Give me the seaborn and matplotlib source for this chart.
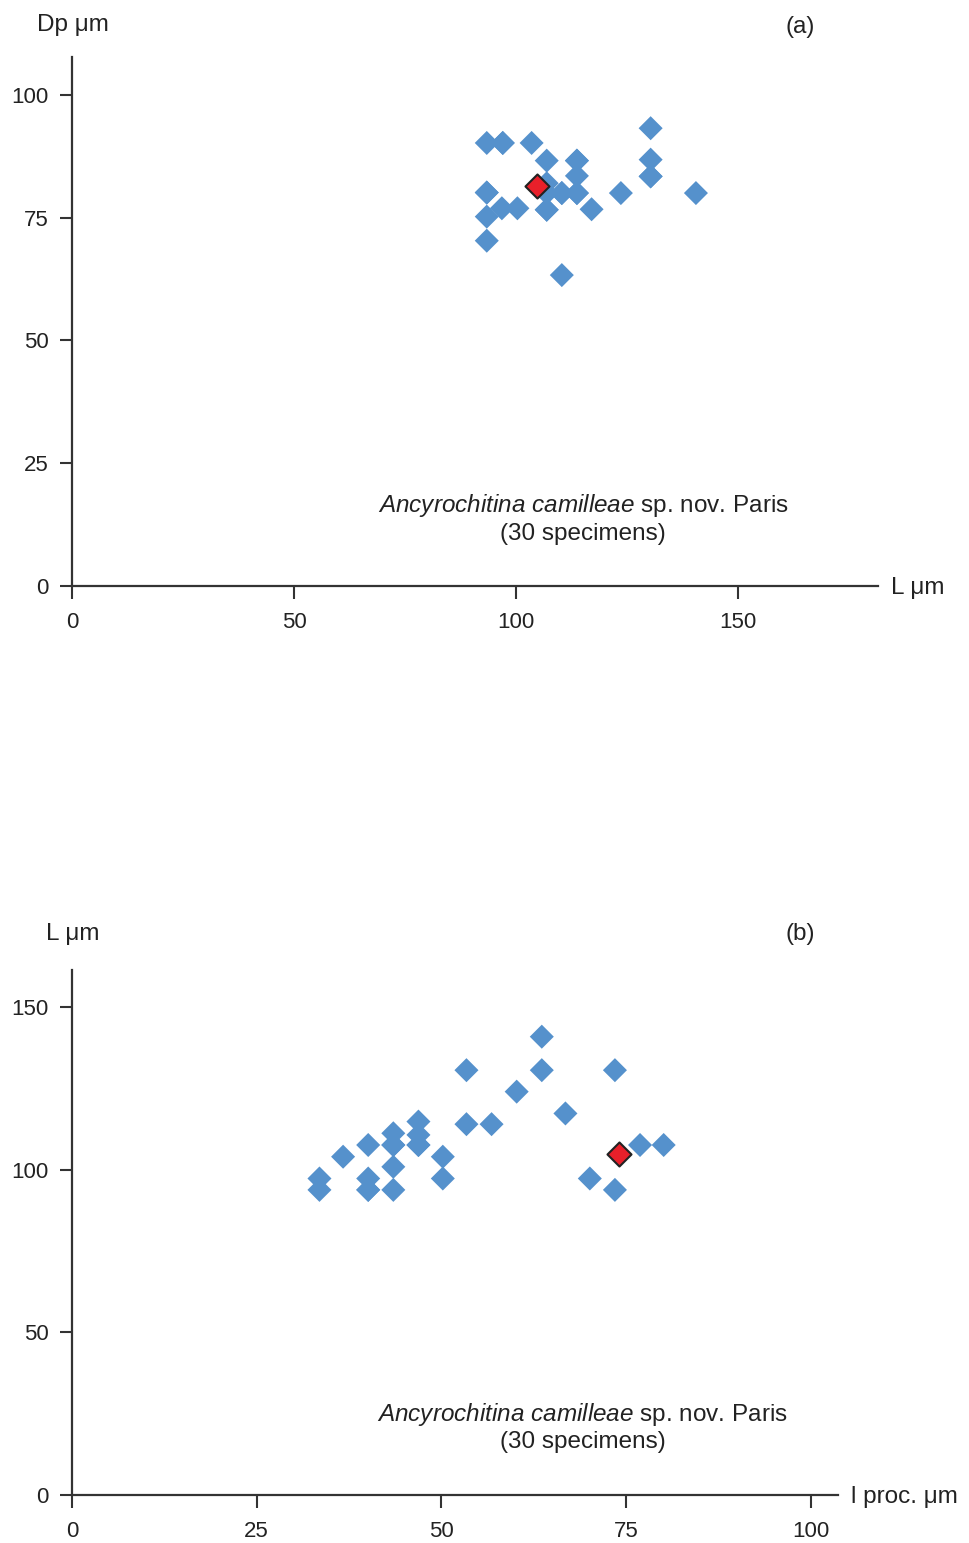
import numpy as np
import pandas as pd
import seaborn as sns
import matplotlib.pyplot as plt

sns.set_style("ticks")
plt.rcParams['font.family'] = ['Liberation Sans', 'DejaVu Sans']
plt.rcParams['mathtext.fontset'] = 'custom'
plt.rcParams['mathtext.rm'] = 'Liberation Sans'
plt.rcParams['mathtext.it'] = 'Liberation Sans:italic'

# (a) length L vs. diameter Dp, µm
a_L = [93.4, 97.0, 103.5, 130.3, 106.9, 113.7, 130.3, 113.7, 130.3, 106.9,
       93.4, 110.3, 113.7, 123.6, 140.5, 96.8, 100.3, 106.9, 117.0, 93.4,
       93.4, 110.3, 106.9, 113.7, 93.4, 97.0, 106.9, 113.7, 130.3, 110.3]
a_Dp = [90.2, 90.2, 90.2, 93.2, 86.6, 86.6, 86.8, 83.5, 83.4, 82.0,
        80.1, 80.0, 80.0, 80.0, 80.0, 76.9, 76.9, 76.6, 76.7, 75.2,
        70.3, 63.3, 80.0, 80.0, 80.1, 90.2, 76.6, 86.6, 83.4, 80.0]
a_mean = (104.7, 81.5)

# (b) process length vs. L, µm
b_proc = [63.6, 53.4, 63.6, 73.5, 60.2, 66.8, 53.4, 56.8, 46.9, 46.9,
          46.9, 43.5, 43.5, 40.1, 36.7, 50.2, 76.9, 80.1, 43.5, 33.5,
          40.1, 50.2, 70.1, 33.5, 40.1, 43.5, 73.5, 46.9, 43.5, 40.1]
b_L = [140.9, 130.6, 130.6, 130.6, 124.0, 117.3, 114.0, 114.0, 114.8, 110.7,
       107.6, 111.2, 107.6, 107.6, 104.0, 104.0, 107.6, 107.6, 100.9, 97.3,
       97.3, 97.3, 97.3, 93.8, 93.8, 93.8, 93.8, 107.6, 107.6, 93.8]
b_mean = (74.1, 104.8)

W, H = 969, 1543
fig = plt.figure(figsize=(W / 100, H / 100), dpi=100)

def px_axes(l, r, t, b):
    return fig.add_axes([l / W, 1 - b / H, (r - l) / W, (b - t) / H])

blue = '#5591cc'
red = '#e8202a'
txt = '#222222'
caption = r"$\mathit{Ancyrochitina\ camilleae}$ sp. nov. Paris" + "\n(30 specimens)"

def style(ax, xmax, ymax, xticks, yticks):
    ax.set_xlim(0, xmax)
    ax.set_ylim(0, ymax)
    ax.set_xticks(xticks)
    ax.set_yticks(yticks)
    sns.despine(ax=ax)
    for s in ['left', 'bottom']:
        ax.spines[s].set_linewidth(1.6)
        ax.spines[s].set_color('#333333')
    ax.tick_params(direction='out', length=9, width=1.5, color='#333333',
                   labelsize=16, labelcolor=txt)
    ax.tick_params(axis='x', pad=10)
    ax.tick_params(axis='y', pad=8)
    ax.set_xlabel('')
    ax.set_ylabel('')

# panel (a)
ax1 = px_axes(72, 878, 57, 586)
dfa = pd.DataFrame({'L': a_L, 'Dp': a_Dp})
sns.scatterplot(data=dfa, x='L', y='Dp', marker='D', s=150, color=blue,
                edgecolor='none', ax=ax1, clip_on=False)
ax1.scatter([a_mean[0]], [a_mean[1]], marker='D', s=150, color=red,
            edgecolor='#222222', linewidth=1.5, zorder=5)
style(ax1, 181.5, 107.7, [0, 50, 100, 150], [0, 25, 50, 75, 100])
ax1.text(115.1, 13.8, caption, ha='center', va='center', fontsize=17.5,
         color=txt, linespacing=1.25)
fig.text(73 / W, 1 - 25 / H, 'Dp μm', ha='center', va='center', fontsize=17.5, color=txt)
fig.text(800 / W, 1 - 27 / H, '(a)', ha='center', va='center', fontsize=17.5, color=txt)
fig.text(891 / W, 1 - 588 / H, 'L μm', ha='left', va='center', fontsize=17.5, color=txt)

# panel (b)
ax2 = px_axes(72, 838, 970, 1495)
dfb = pd.DataFrame({'proc': b_proc, 'L': b_L})
sns.scatterplot(data=dfb, x='proc', y='L', marker='D', s=150, color=blue,
                edgecolor='none', ax=ax2, clip_on=False)
ax2.scatter([b_mean[0]], [b_mean[1]], marker='D', s=150, color=red,
            edgecolor='#222222', linewidth=1.5, zorder=5)
style(ax2, 103.7, 161.4, [0, 25, 50, 75, 100], [0, 50, 100, 150])
ax2.text(69.1, 20.9, caption, ha='center', va='center', fontsize=17.5,
         color=txt, linespacing=1.15)
fig.text(73 / W, 1 - 934 / H, 'L μm', ha='center', va='center', fontsize=17.5, color=txt)
fig.text(800 / W, 1 - 934 / H, '(b)', ha='center', va='center', fontsize=17.5, color=txt)
fig.text(851 / W, 1 - 1497 / H, 'l proc. μm', ha='left', va='center', fontsize=17.5, color=txt)

fig.savefig('out.png', dpi=100, facecolor='white')
